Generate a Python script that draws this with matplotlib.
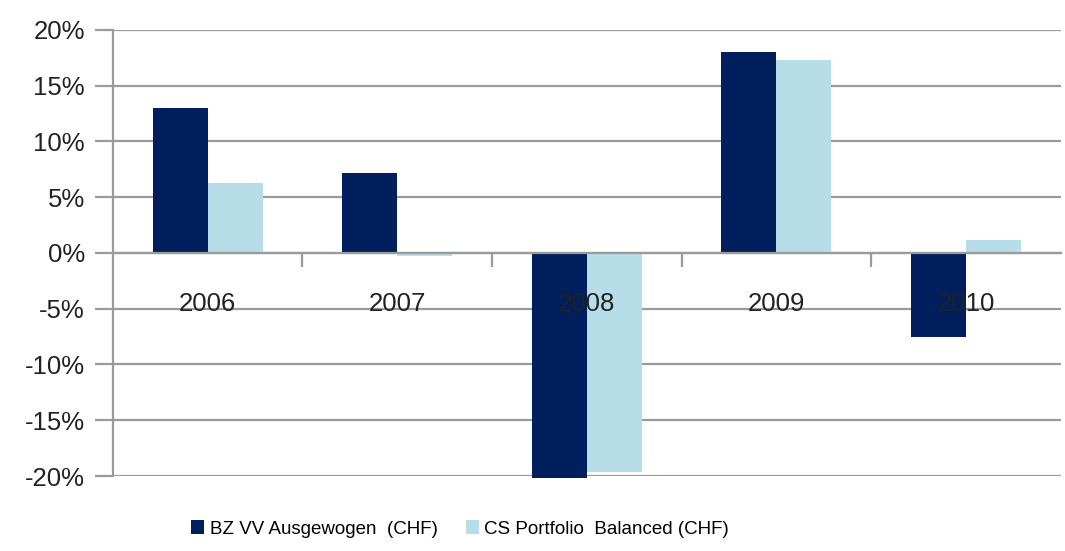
import matplotlib.pyplot as plt
import numpy as np
from matplotlib.ticker import FixedLocator, FuncFormatter

#### 00 data
years = ["2006", "2007", "2008", "2009", "2010"]
bz_vv = [13.0, 7.2, -20.2, 18.0, -7.5]
cs_portfolio = [6.3, -0.3, -19.6, 17.3, 1.2]
series_names = ["BZ VV Ausgewogen  (CHF)", "CS Portfolio  Balanced (CHF)"]
yticks = [-20, -15, -10, -5, 0, 5, 10, 15, 20]

#### 01 style
plt.rcParams["font.family"] = ["Liberation Sans Narrow", "Liberation Sans", "DejaVu Sans"]
dark = "#001f5c"
light = "#b7dde8"
grid_col = "#9a9a9a"

fig = plt.figure(figsize = (10.65, 5.51), dpi = 100)
ax = fig.add_axes([0.106, 0.136, 0.89, 0.81])

x = np.arange(len(years))
w = 0.29
ax.bar(x - w / 2, bz_vv, w, color = dark, label = series_names[0], zorder = 2, clip_on = False)
ax.bar(x + w / 2, cs_portfolio, w, color = light, label = series_names[1], zorder = 2, clip_on = False)

# gridlines behind bars
for v in yticks:
    ax.axhline(v, color = grid_col, lw = 1.6, zorder = 0)

ax.set_xlim(-0.5, len(years) - 0.5)
ax.set_ylim(-20, 20)
ax.set_yticks(yticks)
ax.yaxis.set_major_formatter(FuncFormatter(lambda v, p: f"{v:.0f}%"))
ax.tick_params(axis = "y", length = 13, width = 1.6, color = grid_col, labelsize = 18.5, pad = 7, labelcolor = "#222222")

# category axis sits at 0
for s in ["top", "right"]:
    ax.spines[s].set_visible(False)
ax.spines["left"].set_color(grid_col)
ax.spines["left"].set_linewidth(1.6)
ax.spines["bottom"].set_position(("data", 0))
ax.spines["bottom"].set_color(grid_col)
ax.spines["bottom"].set_linewidth(1.6)
ax.set_xticks(x)
ax.set_xticklabels(years)
ax.xaxis.set_minor_locator(FixedLocator(x[:-1] + 0.5))
ax.tick_params(axis = "x", which = "major", length = 0, labelsize = 18.5, pad = 28, labelcolor = "#222222")
ax.tick_params(axis = "x", which = "minor", length = 10, width = 1.6, color = grid_col)
ax.xaxis.set_zorder(3)

fig.legend(loc = "center", bbox_to_anchor = (0.432, 0.04), ncol = 2, frameon = False,
           fontsize = 13.5, handlelength = 0.7, handleheight = 0.7, handletextpad = 0.3, columnspacing = 1.5)

plt.savefig("out.png", dpi = 100)
